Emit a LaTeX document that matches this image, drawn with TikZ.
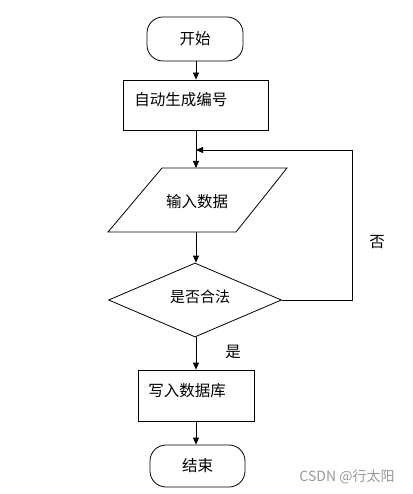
\documentclass[tikz,border=0pt]{standalone}
\usepackage{fontspec}
\setmainfont{Noto Sans CJK SC}
\usetikzlibrary{shapes.geometric,arrows.meta,calc}
\begin{document}
\begin{tikzpicture}[x=1pt,y=-1pt,
  line width=0.8pt,
  every node/.style={font=\fontsize{15.5}{17}\selectfont},
  term/.style={draw,rounded corners=16pt,minimum width=96pt,minimum height=44pt,inner sep=0pt},
  procbox/.style={draw,minimum width=#1,inner sep=0pt},
  dec/.style={draw,diamond,minimum width=173pt,minimum height=74pt,inner sep=0pt},
  arr/.style={-{Triangle[length=7pt,width=6pt]}},
  lbl/.style={inner sep=0pt}
]
\useasboundingbox[fill=white] (0,0) rectangle (412,494);
% start
\node[term] (start) at (195,39) {开始};
% box 1
\node[procbox=145pt,minimum height=50pt] (b1) at (195.5,105) {};
\node[lbl,anchor=west] (t1) at (134,100) {自动生成编号};
% parallelogram
\coordinate (pa) at (162,168);
\coordinate (pb) at (287,168);
\coordinate (pc) at (236,232);
\coordinate (pd) at (108,232);
\draw (pa) -- (pb) -- (pc) -- (pd) -- cycle;
\node[lbl] (t2) at (197,202) {输入数据};
\coordinate (ptop) at (196,168);
\coordinate (pbot) at (196,232);
% decision
\node[dec] (d) at (195,300) {};
\node[lbl,font=\fontsize{15}{17}\selectfont] (t3) at (200,297) {是否合法};
% box 2
\node[procbox=116pt,minimum height=51pt] (b2) at (196,395.5) {};
\node[lbl,anchor=west] (t4) at (148,391) {写入数据库};
% end
\node[term,minimum width=95pt,minimum height=42pt] (end) at (197.5,466) {结束};
% connectors
\draw[arr] (start.south -| 196,0) -- (b1.north -| 196,0);
\draw[arr] (b1.south -| 196,0) -- (ptop);
\draw[arr] (pbot) -- (d.north -| 196,0);
\coordinate (c1) at (352,300);
\coordinate (c2) at (352,150);
\coordinate (c3) at (196,150);
\draw[arr] (d.east) -- (c1) -- (c2) -- (c3);
\draw[arr] (d.south -| 196,0) -- (b2.north -| 196,0);
\draw[arr] (b2.south -| 196,0) -- (end.north -| 196,0);
% labels
\node[lbl] (no) at (377,242) {否};
\node[lbl] (yes) at (233,352) {是};
\node[lbl,text=black!40,font=\fontsize{14}{16}\selectfont] (wm) at (347,477) {CSDN @行太阳};
\end{tikzpicture}
\end{document}
